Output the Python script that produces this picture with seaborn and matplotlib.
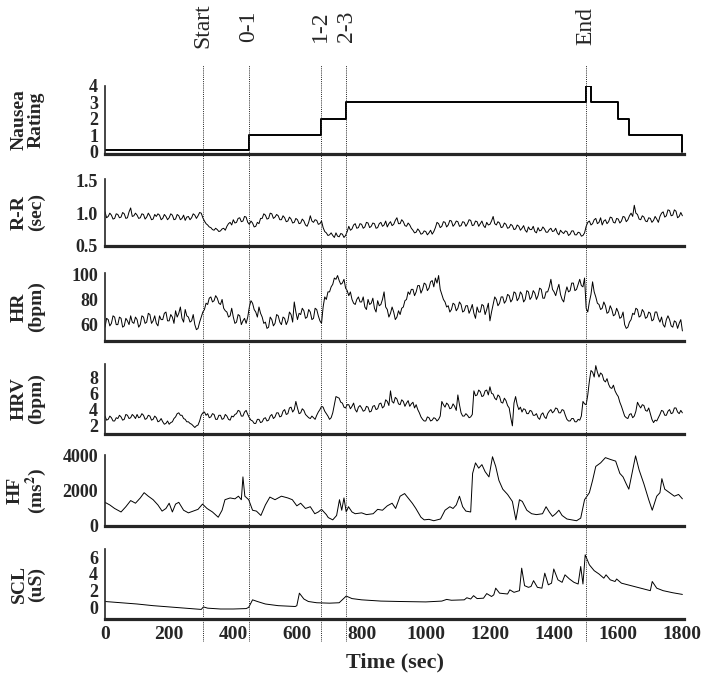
import numpy as np
import matplotlib
matplotlib.use("Agg")
import matplotlib.pyplot as plt
import seaborn as sns

sns.set_style("white")
plt.rcParams['font.family'] = ['Liberation Serif', 'DejaVu Serif']
plt.rcParams['mathtext.fontset'] = 'stix'

# event markers (sec)
marker_times = [305, 448, 672, 752, 1500]
marker_labels = ['Start', '0-1', '1-2', '2-3', 'End']

# nausea rating (step changes)
nausea_time = [0, 450, 672, 752, 1498, 1515, 1600, 1632, 1800]
nausea_val = [0.1, 1, 2, 3, 4, 3, 2, 1, 0]

# regular 5 s grid for R-R, HR, HRV
time_grid = np.arange(0, 1801, 5)

rr_val = [
    1.02, 0.93, 0.95, 1.00, 0.97, 0.91, 0.92, 0.99, 0.98, 0.93, 0.94, 1.01, 0.99, 0.92, 0.93, 1.02, 1.08, 0.95, 0.96, 1.00,
    0.97, 0.92, 0.93, 0.99, 0.98, 0.91, 0.94, 1.00, 0.96, 0.90, 0.91, 0.98, 0.95, 0.99, 0.97, 0.90, 0.92, 0.98, 0.95, 0.90,
    0.93, 0.99, 0.97, 0.90, 0.91, 0.98, 0.96, 0.90, 0.92, 0.97, 0.89, 0.94, 0.95, 0.90, 0.93, 0.99, 0.97, 0.92, 0.96, 1.01,
    1.00, 0.93, 0.88, 0.84, 0.82, 0.79, 0.78, 0.75, 0.74, 0.77, 0.75, 0.72, 0.73, 0.76, 0.77, 0.74, 0.80, 0.84, 0.86, 0.82,
    0.90, 0.85, 0.86, 0.92, 0.93, 0.87, 0.88, 0.95, 0.94, 0.86, 0.83, 0.88, 0.85, 0.79, 0.80, 0.86, 0.84, 0.92, 0.92, 0.99,
    0.97, 0.91, 0.92, 1.00, 0.99, 0.92, 0.94, 0.98, 0.96, 0.90, 0.90, 0.96, 0.93, 0.87, 0.88, 0.94, 0.91, 0.85, 0.86, 0.92,
    0.90, 0.84, 0.85, 0.91, 0.88, 0.82, 0.80, 0.86, 0.96, 0.88, 0.86, 0.90, 0.89, 0.83, 0.84, 0.88, 0.78, 0.72, 0.70, 0.66,
    0.67, 0.70, 0.66, 0.63, 0.70, 0.65, 0.64, 0.69, 0.68, 0.63, 0.66, 0.72, 0.80, 0.74, 0.76, 0.82, 0.84, 0.77, 0.78, 0.84,
    0.83, 0.77, 0.79, 0.86, 0.85, 0.78, 0.80, 0.85, 0.84, 0.77, 0.78, 0.84, 0.86, 0.80, 0.82, 0.88, 0.79, 0.84, 0.87, 0.81,
    0.83, 0.89, 0.93, 0.84, 0.84, 0.90, 0.87, 0.81, 0.80, 0.85, 0.82, 0.77, 0.74, 0.70, 0.71, 0.76, 0.73, 0.68, 0.69, 0.73,
    0.72, 0.67, 0.70, 0.74, 0.68, 0.72, 0.78, 0.86, 0.84, 0.78, 0.80, 0.87, 0.86, 0.79, 0.82, 0.89, 0.88, 0.80, 0.83, 0.88,
    0.87, 0.80, 0.81, 0.87, 0.86, 0.80, 0.84, 0.90, 0.89, 0.81, 0.82, 0.88, 0.87, 0.80, 0.84, 0.88, 0.81, 0.78, 0.86, 0.82,
    0.83, 0.88, 0.95, 0.84, 0.82, 0.87, 0.85, 0.78, 0.79, 0.85, 0.83, 0.77, 0.78, 0.83, 0.81, 0.75, 0.76, 0.82, 0.80, 0.74,
    0.77, 0.81, 0.74, 0.71, 0.79, 0.75, 0.75, 0.80, 0.72, 0.70, 0.78, 0.73, 0.74, 0.79, 0.76, 0.71, 0.71, 0.75, 0.77, 0.72,
    0.73, 0.77, 0.70, 0.67, 0.74, 0.71, 0.69, 0.73, 0.72, 0.66, 0.68, 0.73, 0.73, 0.67, 0.67, 0.71, 0.70, 0.65, 0.66, 0.70,
    0.80, 0.86, 0.88, 0.82, 0.84, 0.90, 0.92, 0.84, 0.86, 0.93, 0.82, 0.88, 0.90, 0.84, 0.87, 0.94, 0.93, 0.86, 0.85, 0.92,
    0.91, 0.85, 0.88, 0.95, 0.94, 0.87, 0.90, 0.96, 1.00, 0.95, 1.12, 1.00, 0.98, 0.91, 0.90, 0.96, 0.94, 0.88, 0.87, 0.93,
    0.92, 0.86, 0.89, 0.95, 0.91, 0.86, 0.95, 1.00, 1.02, 0.94, 0.96, 1.05, 1.04, 0.96, 0.97, 1.05, 1.03, 0.93, 0.95, 1.01,
    0.96,
]

hr_val = [
    58, 65, 64, 59, 61, 67, 66, 60, 60, 66, 65, 58, 59, 65, 63, 60, 67, 62, 61, 66,
    64, 58, 60, 67, 66, 61, 62, 69, 68, 61, 63, 67, 61, 59, 67, 64, 64, 69, 70, 63,
    63, 68, 66, 61, 71, 66, 69, 74, 65, 62, 72, 67, 66, 62, 63, 68, 60, 56, 57, 62,
    66, 70, 72, 77, 76, 81, 82, 78, 79, 83, 81, 77, 76, 80, 73, 71, 70, 66, 67, 73,
    66, 61, 62, 68, 67, 60, 63, 65, 61, 66, 74, 79, 77, 72, 70, 66, 74, 69, 66, 61,
    62, 57, 58, 66, 64, 59, 61, 68, 67, 62, 60, 66, 65, 60, 63, 70, 68, 62, 78, 70,
    64, 69, 68, 73, 71, 65, 66, 72, 70, 64, 65, 73, 72, 67, 63, 61, 74, 82, 80, 86,
    86, 90, 92, 97, 96, 99, 95, 92, 93, 96, 89, 87, 83, 86, 80, 77, 76, 80, 82, 78,
    78, 82, 74, 72, 80, 76, 77, 81, 73, 70, 79, 75, 76, 80, 86, 74, 72, 66, 69, 74,
    70, 64, 66, 71, 68, 73, 74, 79, 80, 86, 84, 88, 88, 83, 86, 91, 91, 85, 88, 93,
    92, 87, 89, 94, 95, 90, 97, 93, 99, 88, 84, 80, 78, 74, 75, 70, 72, 77, 76, 71,
    73, 78, 76, 70, 71, 75, 75, 69, 72, 76, 69, 65, 74, 70, 70, 76, 75, 68, 72, 77,
    63, 70, 76, 82, 80, 75, 77, 82, 82, 77, 79, 84, 83, 78, 80, 86, 85, 79, 81, 86,
    84, 78, 80, 87, 86, 80, 82, 87, 85, 80, 83, 89, 88, 81, 81, 86, 86, 90, 96, 88,
    86, 83, 88, 92, 84, 80, 78, 85, 90, 86, 87, 93, 93, 87, 88, 92, 96, 91, 90, 97,
    73, 70, 78, 84, 94, 86, 82, 77, 76, 72, 73, 78, 75, 69, 70, 75, 72, 67, 68, 73,
    70, 65, 66, 70, 60, 57, 58, 62, 64, 69, 68, 73, 72, 66, 67, 72, 70, 65, 66, 70,
    69, 63, 64, 70, 70, 65, 62, 66, 60, 58, 64, 67, 64, 59, 58, 63, 62, 57, 61, 64,
    55,
]

hrv_val = [
    3.2, 2.7, 2.8, 3.2, 3.0, 2.6, 2.6, 3.0, 2.9, 3.3, 3.1, 2.7, 2.8, 3.4, 3.3, 2.9, 3.0, 3.4, 3.2, 2.9,
    3.4, 3.0, 3.1, 3.5, 3.3, 2.8, 2.9, 3.3, 3.2, 2.7, 2.8, 3.2, 3.0, 2.5, 2.6, 2.9, 2.5, 2.2, 2.3, 2.6,
    2.2, 2.4, 2.5, 2.9, 3.1, 3.5, 3.6, 3.3, 3.3, 2.9, 2.8, 2.5, 2.5, 2.3, 2.2, 2.0, 1.8, 2.0, 2.1, 2.6,
    3.3, 3.6, 3.7, 3.3, 3.5, 3.0, 3.1, 3.5, 3.4, 2.8, 2.8, 3.3, 3.3, 2.8, 2.9, 3.4, 3.2, 2.8, 2.7, 3.2,
    3.1, 3.4, 3.5, 3.9, 3.8, 3.2, 3.2, 3.7, 3.9, 3.4, 3.0, 2.7, 2.6, 2.3, 2.3, 2.8, 2.8, 2.4, 2.5, 2.9,
    3.0, 2.6, 2.7, 3.2, 3.4, 2.9, 3.1, 3.6, 3.6, 3.1, 3.2, 3.8, 4.0, 3.4, 3.5, 4.2, 4.3, 3.7, 4.0, 5.0,
    4.2, 3.5, 3.6, 4.1, 3.9, 3.4, 3.2, 3.0, 2.9, 3.2, 3.0, 2.8, 3.3, 3.7, 4.0, 4.4, 4.3, 3.8, 3.5, 3.2,
    2.8, 3.0, 3.6, 4.6, 5.6, 5.5, 5.4, 4.9, 4.8, 4.3, 4.2, 4.6, 4.6, 4.1, 4.4, 4.8, 4.0, 3.7, 4.3, 4.5,
    4.2, 3.8, 3.9, 4.4, 4.3, 3.7, 3.8, 4.4, 4.5, 4.0, 4.1, 4.7, 4.8, 4.2, 4.4, 5.2, 5.0, 4.5, 6.3, 5.0,
    4.8, 5.5, 5.3, 4.7, 4.6, 5.2, 5.0, 4.4, 4.8, 5.1, 4.4, 4.7, 4.9, 4.2, 4.6, 4.0, 3.6, 3.1, 2.8, 2.6,
    2.6, 3.1, 3.0, 2.6, 2.7, 3.0, 2.9, 2.6, 2.8, 3.2, 5.0, 4.6, 4.3, 4.8, 4.6, 4.1, 4.2, 4.7, 4.4, 3.9,
    5.8, 4.6, 3.6, 3.2, 3.2, 3.5, 3.3, 3.0, 3.1, 3.4, 6.3, 5.7, 5.8, 6.4, 6.2, 5.6, 5.7, 6.3, 6.4, 5.8,
    6.8, 6.0, 5.9, 5.4, 5.2, 5.8, 5.6, 4.9, 4.8, 5.4, 5.1, 4.5, 4.2, 3.0, 2.0, 4.8, 5.6, 4.6, 4.0, 4.3,
    3.7, 4.1, 4.0, 3.5, 3.5, 3.9, 3.8, 3.3, 3.3, 3.5, 3.0, 2.8, 3.4, 3.6, 3.1, 2.9, 3.5, 3.8, 4.0, 3.6,
    3.8, 4.2, 4.1, 3.6, 3.6, 4.0, 3.9, 3.3, 2.8, 2.6, 2.6, 2.9, 2.9, 2.5, 2.5, 2.8, 2.7, 3.2, 5.0, 4.7,
    4.6, 5.8, 7.5, 8.8, 8.6, 8.0, 9.4, 8.6, 8.0, 8.5, 8.3, 7.6, 7.4, 7.8, 7.1, 6.7, 6.6, 7.0, 6.3, 5.9,
    5.6, 4.9, 4.4, 3.8, 3.2, 3.0, 2.9, 3.4, 3.5, 3.0, 3.2, 3.8, 4.9, 4.5, 4.2, 4.6, 4.5, 3.9, 3.8, 4.2,
    3.5, 2.8, 2.4, 2.7, 2.6, 3.0, 3.4, 3.9, 3.8, 3.3, 3.3, 3.8, 4.0, 3.5, 3.6, 4.2, 4.2, 3.7, 3.5, 3.9,
    3.6,
]

# HF power, read at breakpoints
hf_time = [0, 15, 30, 50, 65, 80, 95, 110, 122, 135, 150, 165, 178, 190, 200,
           210, 220, 230, 245, 260, 275, 290, 304, 318, 335, 353, 365, 374,
           390, 405, 416, 425, 430, 436, 448, 460, 472, 486, 500, 514, 530,
           550, 570, 584, 598, 610, 625, 640, 654, 665, 675, 690, 696, 710,
           722, 731, 738, 745, 752, 759, 770, 780, 800, 815, 836, 850, 865,
           880, 895, 906, 920, 934, 945, 958, 969, 985, 995, 1010, 1025, 1046,
           1060, 1075, 1085, 1095, 1105, 1115, 1125, 1140, 1146, 1155, 1165,
           1175, 1185, 1197, 1208, 1218, 1228, 1240, 1255, 1270, 1281, 1292,
           1301, 1315, 1330, 1345, 1364, 1375, 1385, 1395, 1405, 1415, 1425,
           1440, 1455, 1470, 1483, 1495, 1510, 1520, 1530, 1545, 1560, 1575,
           1592, 1605, 1615, 1625, 1633, 1645, 1654, 1665, 1680, 1695, 1706,
           1720, 1730, 1736, 1745, 1760, 1775, 1788, 1800]
hf_val = [1350, 1200, 1000, 800, 1100, 1450, 1300, 1600, 1900, 1700, 1500,
          1200, 850, 1000, 1300, 800, 1250, 1350, 900, 750, 850, 950, 1250,
          1000, 800, 500, 900, 1500, 1600, 1550, 1700, 1500, 2800, 1700, 1500,
          900, 850, 600, 1200, 1650, 1500, 1700, 1600, 1500, 1150, 1300, 1000,
          1100, 700, 800, 950, 650, 480, 350, 600, 1500, 900, 1600, 800, 1100,
          800, 700, 750, 650, 700, 950, 900, 1150, 1300, 1000, 1700, 1850,
          1600, 1300, 1000, 500, 350, 380, 300, 400, 900, 1100, 1000, 1200,
          1700, 1100, 850, 800, 3000, 3600, 3300, 3500, 3100, 2800, 3950, 3400,
          2600, 2100, 1800, 1400, 350, 1500, 1400, 900, 700, 650, 700, 1100,
          800, 550, 700, 900, 600, 400, 350, 300, 450, 1500, 1900, 2600, 3400,
          3600, 3900, 3800, 3700, 3000, 2800, 2400, 2100, 3200, 4000, 3200,
          2400, 1500, 900, 1700, 1900, 2700, 2100, 1900, 1700, 1800, 1550]

# skin conductance level, read at breakpoints
scl_time = [0, 50, 100, 150, 200, 250, 300, 307, 320, 360, 400, 440, 448, 460,
            475, 500, 540, 593, 598, 606, 620, 634, 660, 700, 730, 752, 770,
            800, 860, 920, 1000, 1050, 1065, 1080, 1120, 1128, 1140, 1149,
            1160, 1180, 1190, 1205, 1212, 1218, 1230, 1255, 1262, 1275, 1292,
            1299, 1308, 1320, 1328, 1336, 1348, 1362, 1371, 1382, 1392, 1399,
            1412, 1425, 1434, 1448, 1462, 1475, 1483, 1490, 1497, 1510, 1525,
            1540, 1555, 1562, 1575, 1590, 1595, 1610, 1630, 1660, 1690, 1700,
            1706, 1720, 1740, 1770, 1800]
scl_val = [0.7, 0.55, 0.4, 0.2, 0.05, -0.1, -0.25, 0.05, -0.1, -0.2, -0.2,
           -0.15, 0.0, 0.9, 0.7, 0.4, 0.2, 0.1, 0.2, 1.7, 1.0, 0.7, 0.55, 0.5,
           0.55, 1.35, 1.05, 0.9, 0.75, 0.7, 0.65, 0.75, 0.95, 0.85, 0.9, 1.15,
           1.0, 1.4, 1.05, 1.1, 1.65, 1.3, 1.5, 2.3, 1.7, 1.6, 2.1, 1.8, 2.0,
           4.7, 2.6, 2.4, 2.5, 3.2, 2.4, 2.3, 4.1, 2.7, 2.9, 4.6, 3.3, 3.0, 3.9,
           3.4, 3.0, 2.8, 4.9, 2.8, 6.3, 5.1, 4.4, 4.0, 3.5, 3.9, 3.3, 3.1, 3.4,
           2.9, 2.7, 2.4, 2.1, 2.0, 3.1, 2.3, 2.0, 1.75, 1.55]

panels = [
    # label, x, y, top px, bottom px, ylim, yticks, tick format
    ('Nausea\nRating', nausea_time, nausea_val, 86, 154, (-0.15, 4.0), [0, 1, 2, 3, 4], '{:.0f}'),
    ('R-R\n(sec)', time_grid, rr_val, 179, 246, (0.5, 1.52), [0.5, 1.0, 1.5], '{:.1f}'),
    ('HR\n(bpm)', time_grid, hr_val, 273, 341, (47, 101), [60, 80, 100], '{:.0f}'),
    ('HRV\n(bpm)', time_grid, hrv_val, 364, 434, (1, 9.6), [2, 4, 6, 8], '{:.0f}'),
    ('HF\n(ms$^{\\mathbf{2}}$)', hf_time, hf_val, 455, 526, (0, 4050), [0, 2000, 4000], '{:.0f}'),
    ('SCL\n(uS)', scl_time, scl_val, 549, 619, (-1.4, 7), [0, 2, 4, 6], '{:.0f}'),
]

W, H = 703, 681
left_px, right_px = 105, 684
fig = plt.figure(figsize=(W / 100, H / 100), dpi=100)

for i, (lab, xs, ys, top, bot, ylim, yt, fmt) in enumerate(panels):
    ax = fig.add_axes([left_px / W, 1 - bot / H, (right_px - left_px) / W, (bot - top) / H])
    if i == 0:
        sns.lineplot(x=xs, y=ys, ax=ax, color='black', linewidth=1.4, drawstyle='steps-post')
    else:
        sns.lineplot(x=xs, y=ys, ax=ax, color='black', linewidth=0.7)
    ax.set_xlim(0, 1805)
    ax.set_ylim(*ylim)
    ax.set_yticks(yt)
    ax.set_yticklabels([fmt.format(v) for v in yt], fontsize=13, fontweight='bold')
    ax.set_xticks(np.arange(0, 1801, 200))
    ax.tick_params(axis='x', direction='in', length=8, width=1, pad=5)
    ax.tick_params(axis='y', direction='out', length=4, width=1, pad=1)
    for side in ['top', 'right']:
        ax.spines[side].set_visible(False)
    ax.spines['left'].set_linewidth(1.2)
    ax.spines['bottom'].set_linewidth(2.3)
    ax.set_xlabel('')
    ax.set_ylabel('')
    ax.text(-0.133, 0.5, lab, transform=ax.transAxes, rotation=90, ha='center', va='center',
            fontsize=14, fontweight='bold', linespacing=1.0, multialignment='center')
    if i < len(panels) - 1:
        ax.tick_params(axis='x', labelbottom=False)
    else:
        ax.set_xticklabels([str(v) for v in range(0, 1801, 200)], fontsize=14, fontweight='bold')

fig.text((left_px + right_px) / 2 / W, 1 - 662 / H, 'Time (sec)', ha='center', va='center',
         fontsize=16, fontweight='bold')

# dotted event lines across all panels
line_top, line_bot = 65, 642
ov = fig.add_axes([left_px / W, 1 - line_bot / H, (right_px - left_px) / W, (line_bot - line_top) / H])
ov.set_xlim(0, 1805)
ov.set_ylim(0, 1)
ov.axis('off')
for t, lab in zip(marker_times, marker_labels):
    ov.axvline(t, color='#222222', linewidth=0.7, linestyle=(0, (1, 1.2)))
    ov.text(t, (line_bot - 26) / (line_bot - line_top), lab, transform=ov.get_xaxis_transform(),
            rotation=90, ha='center', va='center', fontsize=17)

fig.savefig('out.png', dpi=100)
